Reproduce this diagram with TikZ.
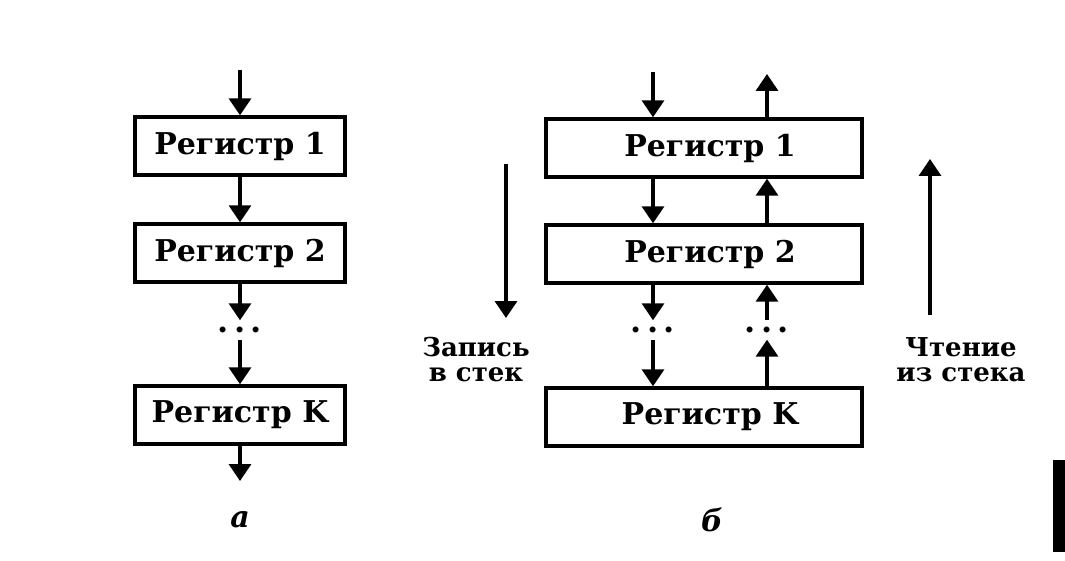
\documentclass[tikz,border=0pt]{standalone}
\usepackage{fontspec}
\setmainfont{DejaVu Serif}
\usetikzlibrary{positioning,arrows.meta}
\tikzstyle{every path}=[line width=3.4pt]
\tikzstyle{reg}=[draw, line width=3.4pt, minimum height=58pt, inner sep=0pt, font=\fontsize{30}{32}\selectfont\bfseries]
\tikzstyle{arr}=[line width=3.4pt, -{Triangle[width=22pt,length=17pt]}]
\tikzstyle{dotsbox}=[inner sep=0pt, minimum height=16pt, font=\fontsize{32}{32}\selectfont\bfseries]
\tikzstyle{lbl}=[align=center, inner sep=0pt, font=\fontsize{26}{25}\selectfont\bfseries]
\tikzstyle{figcap}=[inner sep=0pt, font=\fontsize{30}{30}\selectfont\bfseries\itshape]

\begin{document}
\begin{tikzpicture}[x=1pt, y=-1pt]
    \useasboundingbox (0,0) rectangle (1065,561);
    \node[reg, minimum width=210pt] (a1) at (240,146) {Регистр 1};
    \node[reg, minimum width=210pt] (a2) at (240,253) {Регистр 2};
    \node[dotsbox] (ad) at (240,330) {.\,.\,.};
    \node[reg, minimum width=210pt] (a3) at (240,415) {Регистр K};
    \coordinate (ain) at (240,70);
    \coordinate (aout) at (240,481);
    \draw[arr] (ain) -- (a1.north);
    \draw[arr] (a1.south) -- (a2.north);
    \draw[arr] (a2.south) -- (ad.north);
    \draw[arr] (ad.south) -- (a3.north);
    \draw[arr] (a3.south) -- (aout);
    \node[figcap] (acap) at (240,520) {а};

    \node[reg, minimum width=316pt] (b1) at (704,148) {\hspace{12pt}Регистр 1};
    \node[reg, minimum width=316pt] (b2) at (704,254) {\hspace{12pt}Регистр 2};
    \node[reg, minimum width=316pt] (b3) at (704,417) {\hspace{12pt}Регистр K};
    \node[dotsbox] (bdd) at (653,330) {.\,.\,.};
    \node[dotsbox] (bdu) at (767,330) {.\,.\,.};
    \coordinate (bin) at (653,72);
    \coordinate (bout) at (767,74);
    \draw[arr] (bin) -- (b1.north -| bin);
    \draw[arr] (b1.south -| bin) -- (b2.north -| bin);
    \draw[arr] (b2.south -| bin) -- (bdd.north);
    \draw[arr] (bdd.south) -- (b3.north -| bin);
    \draw[arr] (b3.north -| bout) -- (bdu.south);
    \draw[arr] (bdu.north) -- (b2.south -| bout);
    \draw[arr] (b2.north -| bout) -- (b1.south -| bout);
    \draw[arr] (b1.north -| bout) -- (bout);
    \node[figcap] (bcap) at (712,520) {б};

    \coordinate (wtop) at (506,164);
    \coordinate (wbot) at (506,318);
    \draw[arr] (wtop) -- (wbot);
    \node[lbl] (wlbl) at (476,360) {Запись\\в стек};
    \coordinate (rbot) at (930,315);
    \coordinate (rtop) at (930,159);
    \draw[arr] (rbot) -- (rtop);
    \node[lbl] (rlbl) at (961,360) {Чтение\\из стека};

    \fill (1053,460) rectangle (1065,552);
\end{tikzpicture}
\end{document}
